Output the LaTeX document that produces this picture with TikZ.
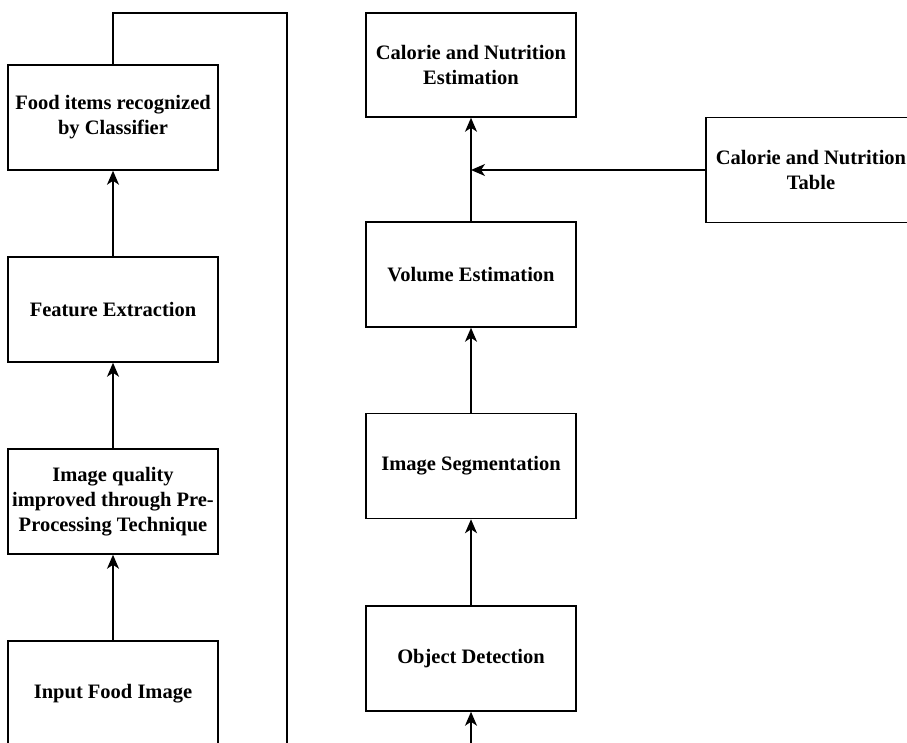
\documentclass[tikz,border=0pt]{standalone}
\usepackage{fontspec}
\setmainfont{Liberation Serif}
\usetikzlibrary{arrows.meta}

\tikzset{
  stage/.style={draw, line width=1.5pt, minimum width=210pt, minimum height=105pt,
    inner sep=1pt, align=center, font=\bfseries\fontsize{20.5}{25}\selectfont},
  flow/.style={line width=1.5pt, -{Stealth[length=14pt,width=12pt,inset=4pt]}}
}

\begin{document}
\begin{tikzpicture}[x=1pt,y=-1pt]

  \clip (0,0) rectangle (907,743);

  % left column
  \node[stage] (food) at (113,117.5) {Food items recognized\\by Classifier};
  \node[stage] (feat) at (113,309.5) {Feature Extraction};
  \node[stage] (pre) at (113,501.5) {Image quality\\improved through Pre-\\Processing Technique};
  \node[stage] (input) at (113,693.5) {Input Food Image};

  \draw [flow] (input) -- (pre);
  \draw [flow] (pre) -- (feat);
  \draw [flow] (feat) -- (food);

  % line over to the right column
  \coordinate (fbA) at (287,13);
  \coordinate (fbB) at (287,760);
  \draw [line width=1.5pt] (food.north) |- (fbA) -- (fbB);

  % right column
  \node[stage, minimum height=104pt] (cal) at (471,65) {Calorie and Nutrition\\Estimation};
  \node[stage] (vol) at (471,274.5) {Volume Estimation};
  \node[stage] (seg) at (471,466) {Image Segmentation};
  \node[stage] (obj) at (471,658.5) {Object Detection};
  \node[stage] (table) at (811,170) {Calorie and Nutrition\\Table};

  \coordinate (join) at (471,170);
  \coordinate (objin) at (471,760);

  \draw [flow] (objin) -- (obj);
  \draw [flow] (obj) -- (seg);
  \draw [flow] (seg) -- (vol);
  \draw [flow] (vol) -- (cal);
  \draw [flow] (table) -- (join);

\end{tikzpicture}
\end{document}
